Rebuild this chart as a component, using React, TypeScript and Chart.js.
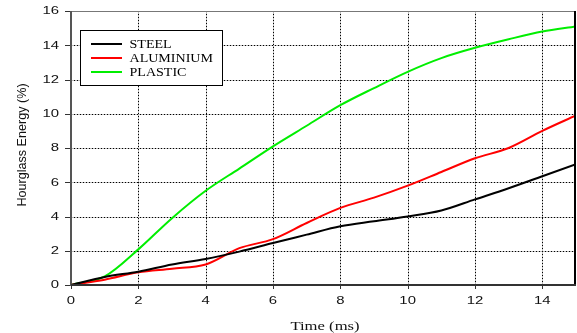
import React, { useEffect, useRef } from 'react';
import { Chart, registerables } from 'chart.js';

Chart.register(...registerables);

const times = [0, 1, 2, 3, 4, 5, 6, 7, 8, 9, 10, 11, 12, 13, 14, 15];
const steel = [0, 0.47, 0.78, 1.2, 1.52, 1.95, 2.45, 2.94, 3.43, 3.72, 4.0, 4.35, 5.0, 5.65, 6.35, 7.05];
const aluminium = [0, 0.31, 0.74, 0.95, 1.2, 2.15, 2.68, 3.62, 4.5, 5.1, 5.8, 6.6, 7.4, 8.0, 9.0, 9.9];
const plastic = [0, 0.5, 2.08, 3.9, 5.5, 6.8, 8.1, 9.3, 10.5, 11.5, 12.45, 13.25, 13.85, 14.35, 14.8, 15.1];
const seriesLabels = ['STEEL', 'ALUMINIUM', 'PLASTIC'];
const seriesColors = ['#000000', '#ff0000', '#00ee00'];
const xTitle = 'Time (ms)';
const yTitle = 'Hourglass Energy (%)';

const toPoints = (ys: number[]) => ys.map((y, i) => ({ x: times[i], y }));

const decorPlugin = {
  id: 'decor',
  afterDraw(chart: any) {
    const ctx: CanvasRenderingContext2D = chart.ctx;
    const { left, right, top, bottom } = chart.chartArea;
    const xs = chart.scales.x;
    const ys = chart.scales.y;
    ctx.save();
    ctx.globalCompositeOperation = 'destination-over';
    ctx.fillStyle = '#000';
    xs.ticks.forEach((t: any) => {
      const px = Math.round(xs.getPixelForValue(t.value));
      if (px <= left + 1 || px >= right - 1) return;
      for (let y = Math.round(top); y < bottom; y += 3) ctx.fillRect(px, y, 1, 1);
    });
    ys.ticks.forEach((t: any) => {
      const py = Math.round(ys.getPixelForValue(t.value));
      if (py >= bottom - 1 || py <= top + 1) return;
      for (let x = Math.round(left); x < right; x += 3) ctx.fillRect(x, py, 1, 1);
    });
    ctx.fillStyle = '#bdbdbd';
    xs.ticks.forEach((t: any) => {
      const px = Math.round(xs.getPixelForValue(t.value));
      if (px <= left + 1 || px >= right - 1) return;
      ctx.fillRect(px, top, 1, bottom - top);
    });
    ys.ticks.forEach((t: any) => {
      const py = Math.round(ys.getPixelForValue(t.value));
      if (py >= bottom - 1 || py <= top + 1) return;
      ctx.fillRect(left, py, right - left, 1);
    });
    ctx.globalCompositeOperation = 'source-over';

    ctx.fillStyle = '#333';
    ys.ticks.forEach((t: any) => {
      const py = Math.round(ys.getPixelForValue(t.value));
      ctx.fillRect(left - 6, py, 6, 1);
    });
    xs.ticks.forEach((t: any) => {
      const px = Math.round(xs.getPixelForValue(t.value));
      ctx.fillRect(px, bottom, 1, 4);
    });
    ctx.fillStyle = '#777';
    ctx.fillRect(left, Math.round(top), right - left, 1);
    ctx.fillStyle = '#000';
    ctx.fillRect(right - 2, top, 2, bottom - top);
    ctx.fillStyle = '#555';
    ctx.fillRect(left - 1, top, 2, bottom - top + 1);
    ctx.fillStyle = '#333';
    ctx.fillRect(left, bottom - 1, right - left, 2);

    ctx.fillStyle = '#111';
    ctx.font = '10.5px "Liberation Sans", Arial, sans-serif';
    ctx.textAlign = 'right';
    ctx.textBaseline = 'middle';
    ys.ticks.forEach((t: any) => {
      const py = ys.getPixelForValue(t.value);
      ctx.save();
      ctx.translate(left - 12, py + 0.5);
      ctx.scale(1.42, 1);
      ctx.fillText(String(t.value), 0, 0);
      ctx.restore();
    });
    ctx.textAlign = 'center';
    xs.ticks.forEach((t: any) => {
      const px = xs.getPixelForValue(t.value);
      ctx.save();
      ctx.translate(px, bottom + 16);
      ctx.scale(1.42, 1);
      ctx.fillText(String(t.value), 0, 0);
      ctx.restore();
    });
    ctx.save();
    ctx.font = '12.5px "Liberation Serif", "Times New Roman", serif';
    ctx.textAlign = 'center';
    ctx.textBaseline = 'alphabetic';
    ctx.translate(325, 330);
    ctx.scale(1.33, 1);
    ctx.fillText(xTitle, 0, 0);
    ctx.restore();
    ctx.save();
    ctx.font = '12.6px "Liberation Sans", Arial, sans-serif';
    ctx.textAlign = 'center';
    ctx.textBaseline = 'middle';
    ctx.translate(23, 145);
    ctx.rotate(-Math.PI / 2);
    ctx.fillText(yTitle, 0, 0);
    ctx.restore();
    const lx = 80, ly = 30, lw = 143, lh = 56;
    ctx.fillStyle = '#fff';
    ctx.fillRect(lx, ly, lw, lh);
    ctx.fillStyle = '#000';
    ctx.fillRect(lx, ly, lw, 1);
    ctx.fillRect(lx, ly + lh - 1, lw, 1);
    ctx.fillRect(lx, ly, 1, lh);
    ctx.fillRect(lx + lw - 1, ly, 1, lh);
    ctx.font = '12px "Liberation Serif", "Times New Roman", serif';
    ctx.textAlign = 'left';
    ctx.textBaseline = 'alphabetic';
    chart.data.datasets.forEach((ds: any, i: number) => {
      const rowY = 44 + i * 14;
      ctx.fillStyle = ds.borderColor;
      ctx.fillRect(91, rowY - 1, 31, 2);
      ctx.fillStyle = '#000';
      ctx.save();
      ctx.translate(129.5, rowY + 4.3);
      ctx.scale(1.17, 1);
      ctx.fillText(ds.label, 0, 0);
      ctx.restore();
    });
    ctx.restore();
  },
};

export default function App() {
  const ref = useRef<HTMLCanvasElement>(null);
  useEffect(() => {
    if (!ref.current) return;
    const chart = new Chart(ref.current, {
      type: 'line',
      data: {
        datasets: [steel, aluminium, plastic].map((s, i) => ({
          label: seriesLabels[i],
          data: toPoints(s),
          borderColor: seriesColors[i],
          backgroundColor: seriesColors[i],
          borderWidth: 2,
          pointRadius: 0,
          fill: false,
          cubicInterpolationMode: 'monotone' as const,
        })),
      },
      options: {
        responsive: false,
        animation: false,
        layout: { padding: { top: 11, right: 1, left: 0, bottom: 0 } },
        plugins: { legend: { display: false }, tooltip: { enabled: false } },
        scales: {
          x: {
            type: 'linear',
            min: 0,
            max: 15,
            ticks: { stepSize: 2, display: false, includeBounds: false },
            grid: { display: false },
            border: { display: false },
            afterFit: (s: any) => { s.height = 48; },
          },
          y: {
            type: 'linear',
            min: 0,
            max: 16,
            ticks: { stepSize: 2, display: false },
            grid: { display: false },
            border: { display: false },
            afterFit: (s: any) => { s.width = 71; },
          },
        },
      },
      plugins: [decorPlugin],
    });
    return () => chart.destroy();
  }, []);
  return (
    <div style={{ position: 'absolute', left: 0, top: 0, width: 577, height: 333, background: '#fff' }}>
      <canvas ref={ref} width={577} height={333} style={{ display: 'block', width: 577, height: 333 }} />
    </div>
  );
}
